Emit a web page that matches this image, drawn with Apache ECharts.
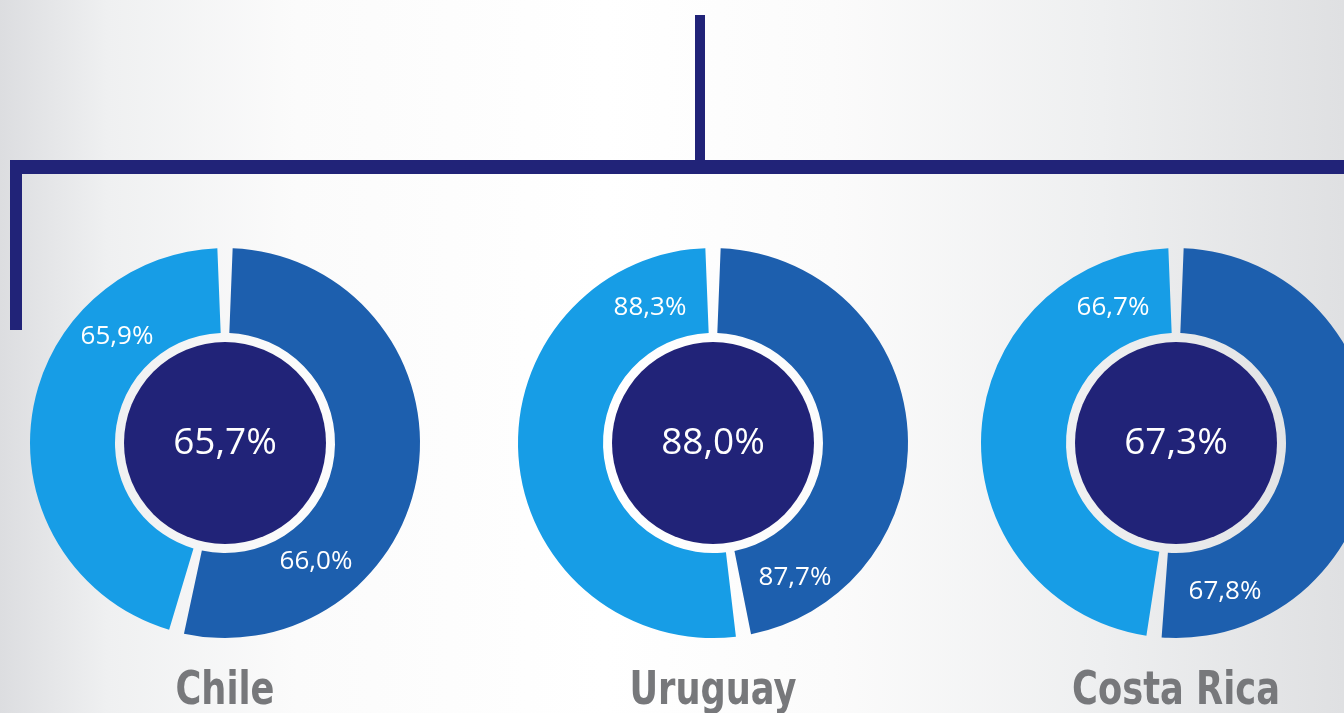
<!DOCTYPE html>
<html>
<head>
<meta charset="utf-8">
<script src="https://cdn.jsdelivr.net/npm/echarts@6/dist/echarts.min.js"></script>
<style>
  html, body { margin: 0; padding: 0; }
  #main {
    width: 1344px; height: 713px;
    background: linear-gradient(90deg, #dcdde0 0%, #eff0f1 8%, #fbfbfb 22%, #ffffff 45%, #fbfbfb 62%, #eeeff0 82%, #dfe0e2 100%);
  }
</style>
</head>
<body>
<div id="main"></div>
<script>
// tasas por país (total, mitad oscura, mitad clara)
const countries = ['Chile', 'Uruguay', 'Costa Rica'];
const totalRate = [65.7, 88.0, 67.3];
const darkRate = [66.0, 87.7, 67.8];
const lightRate = [65.9, 88.3, 66.7];
// tamaño de cada mitad del anillo
const darkShare = [54.0, 47.5, 51.8];
const lightShare = [46.0, 52.5, 48.2];

const navy = '#212378', darkBlue = '#1d5fae', lightBlue = '#179de6';
const centers = [[225, 443], [713, 443], [1176, 443]];
// posición de las etiquetas respecto al centro [clara, oscura]
const labelOffsets = [
    [[-108, -106], [91, 119]],
    [[-63, -135], [82, 135]],
    [[-63, -135], [49, 149]]
];

function fmt(v) {
    return v.toFixed(1).replace('.', ',') + '%';
}

let myChart = echarts.init(document.getElementById('main'));

let series = [];
countries.forEach(function (name, i) {
    // anillo exterior
    series.push({
        type: 'pie',
        name: name,
        center: centers[i],
        radius: [110, 195],
        startAngle: 90,
        clockwise: true,
        padAngle: 4.5,
        silent: true,
        label: {
            show: true,
            position: 'inside',
            color: '#fff',
            fontFamily: 'Open Sans',
            fontSize: 26,
            formatter: function (p) { return p.data.text; }
        },
        labelLine: {show: false},
        labelLayout: function (p) {
            let off = labelOffsets[i][p.dataIndex === 0 ? 1 : 0];
            return {x: centers[i][0] + off[0], y: centers[i][1] + off[1], align: 'center', verticalAlign: 'middle'};
        },
        data: [
            {value: darkShare[i], text: fmt(darkRate[i]), itemStyle: {color: darkBlue}},
            {value: lightShare[i], text: fmt(lightRate[i]), itemStyle: {color: lightBlue}}
        ]
    });
    // círculo central
    series.push({
        type: 'pie',
        center: centers[i],
        radius: [0, 101],
        silent: true,
        itemStyle: {color: navy},
        label: {
            show: true,
            position: 'center',
            color: '#fff',
            fontFamily: 'Open Sans',
            fontSize: 37,
            formatter: function () { return fmt(totalRate[i]); }
        },
        labelLine: {show: false},
        data: [{value: 1}]
    });
});

let graphics = [
    {type: 'rect', shape: {x: 695, y: 15, width: 10, height: 150}, style: {fill: navy}},
    {type: 'rect', shape: {x: 10, y: 160, width: 1334, height: 14}, style: {fill: navy}},
    {type: 'rect', shape: {x: 10, y: 160, width: 12, height: 170}, style: {fill: navy}}
];
countries.forEach(function (name, i) {
    graphics.push({
        type: 'text',
        x: centers[i][0],
        y: 692,
        scaleX: 0.75,
        style: {
            text: name,
            fill: '#77787b',
            font: 'bold 47px "DejaVu Sans", sans-serif',
            align: 'center',
            verticalAlign: 'middle'
        }
    });
});

myChart.setOption({
    backgroundColor: 'transparent',
    animation: false,
    graphic: graphics,
    series: series
});
</script>
</body>
</html>
